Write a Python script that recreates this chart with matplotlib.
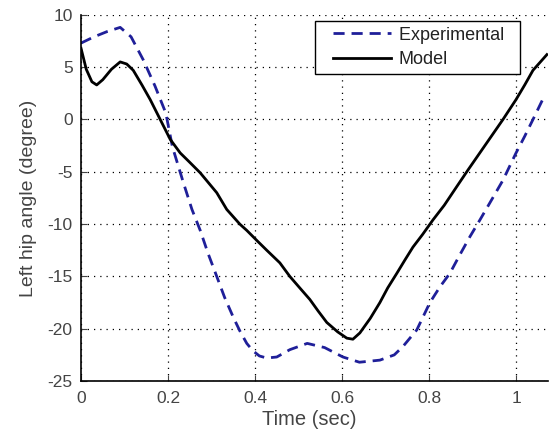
import matplotlib
matplotlib.use('Agg')
import matplotlib.pyplot as plt
from matplotlib.legend_handler import HandlerLine2D

plt.rcParams['font.family'] = ['Liberation Sans', 'DejaVu Sans']
plt.rcParams['axes.unicode_minus'] = False

# Experimental hip angle (blue dashed)
t_exp = [0.0, 0.03, 0.06, 0.09, 0.115, 0.143, 0.17, 0.195, 0.21, 0.235, 0.255,
         0.274, 0.292, 0.312, 0.33, 0.35, 0.365, 0.381, 0.395, 0.41, 0.427,
         0.45, 0.48, 0.52, 0.56, 0.602, 0.64, 0.687, 0.72, 0.74, 0.772, 0.802,
         0.825, 0.848, 0.87, 0.894, 0.917, 0.945, 0.97, 1.0, 1.02, 1.039, 1.067]
y_exp = [7.3, 7.9, 8.4, 8.8, 7.9, 5.7, 3.2, 0.6, -2.6, -6.0, -8.6,
         -10.6, -12.8, -15.0, -17.0, -18.9, -20.2, -21.4, -22.1, -22.6, -22.8,
         -22.7, -22.0, -21.4, -21.8, -22.7, -23.2, -23.0, -22.5, -21.7, -20.1, -17.5,
         -16.0, -14.7, -13.0, -11.2, -9.6, -7.6, -5.8, -3.2, -1.6, 0.0, 2.4]

# Model hip angle (black solid)
t_mod = [0.0, 0.012, 0.025, 0.036, 0.05, 0.07, 0.09, 0.105, 0.12, 0.14, 0.159,
         0.182, 0.205, 0.228, 0.25, 0.274, 0.292, 0.312, 0.335, 0.35, 0.365,
         0.381, 0.405, 0.427, 0.457, 0.48, 0.505, 0.526, 0.545, 0.565, 0.59,
         0.611, 0.625, 0.641, 0.665, 0.687, 0.705, 0.726, 0.745, 0.763, 0.785,
         0.809, 0.835, 0.864, 0.89, 0.91, 0.94, 0.97, 1.0, 1.02, 1.039, 1.071]
y_mod = [6.8, 4.8, 3.6, 3.3, 3.8, 4.8, 5.5, 5.3, 4.7, 3.3, 1.9,
         0.0, -1.9, -3.2, -4.1, -5.1, -6.0, -7.0, -8.6, -9.3, -10.0,
         -10.6, -11.6, -12.5, -13.7, -15.0, -16.2, -17.2, -18.3, -19.4, -20.3,
         -20.9, -21.0, -20.4, -19.0, -17.5, -16.1, -14.7, -13.4, -12.2, -11.0,
         -9.6, -8.2, -6.4, -4.8, -3.6, -1.8, 0.0, 1.9, 3.3, 4.7, 6.2]

fig = plt.figure(figsize=(5.55, 4.36), dpi=100)
ax = fig.add_axes([0.146, 0.126, 0.841, 0.840])

ax.plot(t_exp, y_exp, '--', color='#1f1f99', linewidth=2, dashes=(4, 2.5), label='Experimental  ')
ax.plot(t_mod, y_mod, '-', color='black', linewidth=2, label='Model')

ax.set_xlim(0, 1.073)
ax.set_ylim(-25, 10)
ax.set_xticks([0, 0.2, 0.4, 0.6, 0.8, 1])
ax.set_xticklabels(['0', '0.2', '0.4', '0.6', '0.8', '1'])
ax.set_yticks([-25, -20, -15, -10, -5, 0, 5, 10])

ax.grid(True, linestyle=(0, (1, 4)), color='black', linewidth=0.9)
ax.spines['top'].set_visible(False)
ax.spines['right'].set_visible(False)
ax.spines['left'].set_linewidth(1.2)
ax.spines['bottom'].set_linewidth(1.2)
ax.tick_params(direction='in', length=4, labelsize=12.5, colors='#444')
ax.tick_params(axis='x', pad=7)
ax.tick_params(axis='y', pad=6)

ax.set_xlabel('Time (sec)', fontsize=14.5, color='#444')
ax.set_ylabel('Left hip angle (degree)', fontsize=14, color='#444')
ax.xaxis.set_label_coords(0.49, -0.078)
ax.yaxis.set_label_coords(-0.094, 0.5)

leg = ax.legend(loc='upper right', bbox_to_anchor=(0.94, 0.984), fontsize=13,
                fancybox=False, framealpha=1, edgecolor='black', handlelength=3.9,
                handletextpad=0.4, borderpad=0.33, labelspacing=0.4, borderaxespad=0,
                handler_map={matplotlib.lines.Line2D: HandlerLine2D(xpad=0.67)})
leg.get_frame().set_linewidth(1)
for txt in leg.get_texts():
    txt.set_color('#222')

plt.savefig('out.png', dpi=100)
